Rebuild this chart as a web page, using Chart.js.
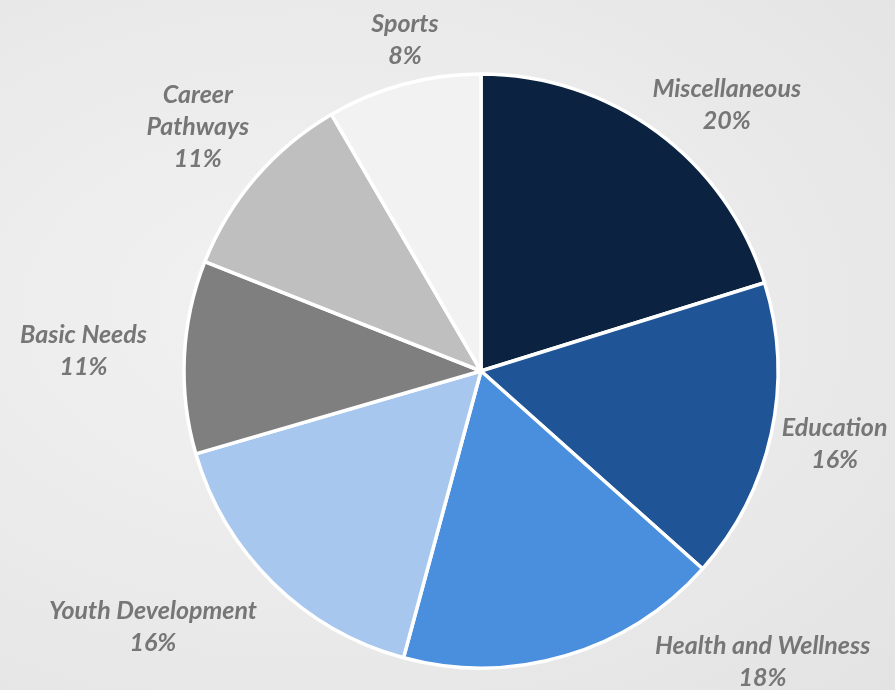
<!DOCTYPE html>
<html>
<head>
<meta charset="utf-8">
<script src="https://cdn.jsdelivr.net/npm/chart.js@4/dist/chart.umd.min.js"></script>
<style>
  html, body { margin: 0; padding: 0; }
  body {
    width: 895px; height: 690px; overflow: hidden;
    background: radial-gradient(ellipse at 35% 45%, #f2f2f2 0%, #ebebeb 50%, #e3e3e3 100%);
  }
  #wrap { position: absolute; left: 0; top: 0; width: 895px; height: 690px; }
</style>
</head>
<body>
<div id="wrap"><canvas id="c" width="895" height="690"></canvas></div>
<script>
const categories = ["Miscellaneous", "Education", "Health and Wellness", "Youth Development", "Basic Needs", "Career Pathways", "Sports"];
const labelLines = [["Miscellaneous"], ["Education"], ["Health and Wellness"], ["Youth Development"], ["Basic Needs"], ["Career", "Pathways"], ["Sports"]];
const values = [20.2, 16.4, 17.6, 16.3, 10.5, 10.6, 8.4];
const colors = ["#0b2341", "#1f5497", "#4a8ede", "#a7c7ee", "#7f7f7f", "#bfbfbf", "#f2f2f2"];

// label placement: distance from pie centre and angle shift from slice mid-angle (degrees)
const labelDist = [362, 361, 405, 416, 398, 374, 340];
const labelShift = [6.4, -0.6, -27.5, 7.6, 0.2, 0.1, 2.2];

const labelPlugin = {
  id: 'outerLabels',
  afterDraw(chart) {
    const ctx = chart.ctx;
    const meta = chart.getDatasetMeta(0);
    const total = values.reduce((a, b) => a + b, 0);
    ctx.save();
    ctx.fillStyle = '#767676';
    ctx.font = 'italic bold 25px Lato, "Open Sans", sans-serif';
    ctx.textAlign = 'center';
    ctx.textBaseline = 'middle';
    meta.data.forEach((arc, i) => {
      const p = arc.getProps(['x', 'y', 'startAngle', 'endAngle'], true);
      const mid = (p.startAngle + p.endAngle) / 2 + labelShift[i] * Math.PI / 180;
      const cx = p.x + Math.cos(mid) * labelDist[i];
      const cy = p.y + Math.sin(mid) * labelDist[i];
      const lines = labelLines[i].concat([Math.round(values[i] / total * 100) + '%']);
      const lh = 32;
      const y0 = cy - (lines.length - 1) * lh / 2;
      lines.forEach((t, k) => ctx.fillText(t, cx, y0 + k * lh));
    });
    ctx.restore();
  }
};

new Chart(document.getElementById('c'), {
  type: 'pie',
  data: {
    labels: categories,
    datasets: [{
      data: values,
      backgroundColor: colors,
      borderColor: '#ffffff',
      borderWidth: 3.5
    }]
  },
  options: {
    responsive: false,
    animation: false,
    radius: 297,
    layout: { padding: { left: 67, right: 0, top: 52, bottom: 0 } },
    plugins: {
      legend: { display: false },
      tooltip: { enabled: false }
    }
  },
  plugins: [labelPlugin]
});
</script>
</body>
</html>
